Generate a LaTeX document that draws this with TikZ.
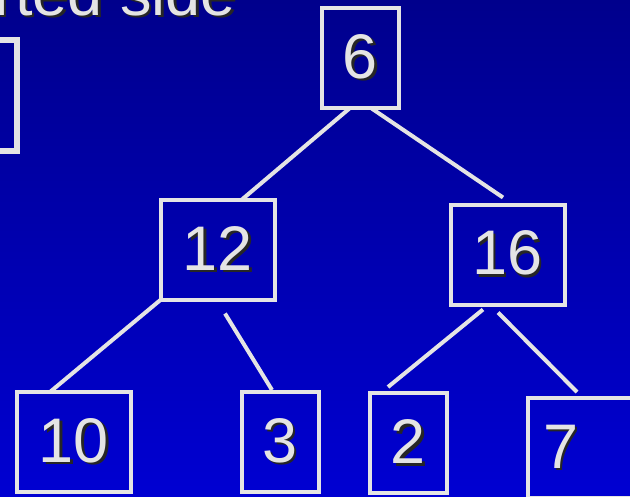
\documentclass[tikz,border=0pt]{standalone}
\usepackage{fontspec}
\setmainfont{Liberation Sans}
\usetikzlibrary{calc}
\definecolor{slidetop}{RGB}{0,0,140}
\definecolor{slidebot}{RGB}{0,0,210}
\definecolor{chalk}{RGB}{228,228,228}
\newcommand{\shtxt}[1]{\makebox[0pt][l]{\hspace{2.5pt}\raisebox{-2.5pt}{\color{black!85}#1}}#1}
\tikzset{
  keybox/.style={draw=chalk, line width=4pt, outer sep=0pt, inner sep=0pt,
    minimum height=100pt, minimum width=77pt, text=chalk,
    font=\fontsize{63}{70}\selectfont},
  widebox/.style={keybox, minimum width=114pt},
  edge/.style={draw=chalk, line width=4pt}
}

\begin{document}
\begin{tikzpicture}[x=1pt, y=-1pt]
  \useasboundingbox (0,0) rectangle (630,496);
  \shade[top color=slidetop, bottom color=slidebot] (0,0) rectangle (630,496);

  % cut-off parts of the slide
  \node[anchor=base east, text=chalk, inner sep=0pt,
    font=\fontsize{63}{70}\selectfont] (title) at (236,15) {\shtxt{rted side}};
  \node[draw=chalk, line width=5.5pt, outer sep=0pt, minimum width=100pt,
    minimum height=111pt] (prev) at (-33,95.5) {};

  % the tree
  \node[keybox] (n6) at (360.5,58) {\shtxt{6}};
  \node[widebox] (n12) at (218,249.5) {\shtxt{12}};
  \node[widebox] (n16) at (507.5,254.5) {\shtxt{16}};
  \node[widebox] (n10) at (74,442) {\shtxt{10}};
  \node[keybox] (n3) at (280,442) {\shtxt{3}};
  \node[keybox] (n2) at (408.5,443) {\shtxt{2}};
  \node[widebox, minimum width=116pt, text width=86pt, align=left,
    inner xsep=15pt] (n7) at (586,448) {\shtxt{7}};

  \draw[edge] ([xshift=-10.5pt]n6.south) -- ([xshift=24pt]n12.north);
  \draw[edge] ([xshift=10.5pt]n6.south) -- ([xshift=-4.5pt,yshift=7pt]n16.north);
  \draw[edge] (n12.south west) -- ([xshift=-24pt]n10.north);
  \draw[edge] ([xshift=7pt,yshift=-14pt]n12.south) -- ([xshift=-8pt,yshift=2pt]n3.north);
  \draw[edge] ([xshift=-24.5pt,yshift=-5pt]n16.south) -- ([xshift=-20.5pt,yshift=6pt]n2.north);
  \draw[edge] ([xshift=-9.5pt,yshift=-8pt]n16.south) -- ([xshift=-9pt,yshift=6pt]n7.north);
\end{tikzpicture}
\end{document}
